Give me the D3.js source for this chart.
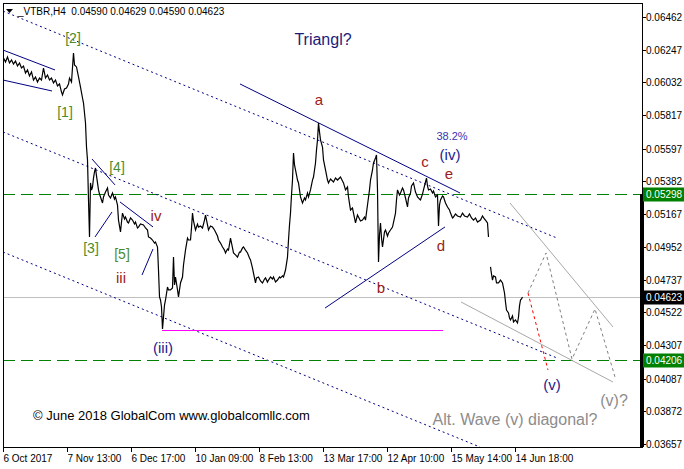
<!DOCTYPE html>
<html><head><meta charset="utf-8">
<script src="https://cdn.jsdelivr.net/npm/d3@7"></script>
<style>body{margin:0;background:#fff;}svg{display:block;font-family:"Liberation Sans",Arial,sans-serif;}</style>
</head><body>
<svg id="c" width="684" height="469"></svg>
<script>
// ---- data ----
const barIndex = [0,2,4,6,8,10,12,14,16,18,20,22,24,26,28,30,32,34,36,38,40,42,44,46,48,50,52,54,56,58,59,61,63,65,66,68,70,71,73,75,77,79,80,82,83,84,85,86,87,
88,89,90,91,92,93,94,95,96,97,98,99,100,102,104,105,107,109,111,112,114,115,117,118,119,121,122,124,125,127,129,131,132,134,135,137,140,142,144,145,147,149,151,152,154,155,156,157,158,159,160,161,162,164,165,167,169,170,171,172,174,175,177,179,180,182,184,185,187,188,189,190,192,194,195,197,199,201,202,204,205,207,209,211,212,214,215,217,219,221,222,224,225,227,229,230,232,234,236,237,239,240,242,244,246,247,249,250,252,253,255,257,259,261,262,264,265,267,269,270,272,274,276,277,279,280,282,284,285,286,287,288,289,290,291,292,294,295,297,299,301,302,304,305,307,309,310,312,313,314,315,316,317,319,320,322,324,325,327,330,332,334,337,339,340,342,344,345,347,349,350,352,354,355,357,359,361,362,364,366,367,369,370,372,373,374,375,376,377,378,379,381,382,384,385,387,389,391,392,393,394,396,397,399,400,402,404,405,407,408,410,412,414,416,417,419,420,422,423,424,425,427,429,430,432,434,435,436,437,439,440,442,444,446,447,449,450,452,454,457,459,461,464,466,468,470,472,474,477,479,481,482,484,485,486,487,488,489,490,492,493,495,497,499,500,501,502,503,505,506,507,509,510,512,514,515,516,517,518,519];
const closePrice = [0.06193,0.06166,0.06199,0.06160,0.06180,0.06153,0.06173,0.06140,0.06160,0.06127,0.06140,0.06094,0.06114,0.06075,0.06101,0.06048,0.06068,0.06035,0.06061,0.06048,0.06127,0.06061,0.06081,0.06048,0.06061,0.06029,0.06048,0.06009,0.06022,0.05969,0.05950,0.05989,0.05996,0.06022,0.06061,0.06035,0.06226,0.06147,0.06134,0.06068,0.06002,0.05930,0.05897,0.05766,0.05608,0.05523,0.05260,0.05017,0.05372,
0.05326,0.05345,0.05404,0.05444,0.05470,0.05418,0.05372,0.05326,0.05299,0.05280,0.05260,0.05240,0.05280,0.05312,0.05339,0.05293,0.05273,0.05306,0.05266,0.05280,0.05227,0.05128,0.05050,0.05115,0.05174,0.05135,0.05148,0.05115,0.05109,0.05142,0.05128,0.05102,0.05115,0.05076,0.05082,0.05102,0.05096,0.05076,0.05063,0.05017,0.05010,0.04997,0.04977,0.04984,0.04951,0.04800,0.04623,0.04603,0.04557,0.04412,0.04491,0.04570,0.04603,0.04688,0.04669,0.04669,0.04682,0.04885,0.04702,0.04754,0.04669,0.04623,0.04715,0.04754,0.04833,0.04931,0.05010,0.04997,0.04997,0.05076,0.05174,0.05122,0.05063,0.05102,0.05082,0.05089,0.05076,0.05128,0.05161,0.05096,0.05063,0.05089,0.05082,0.05063,0.05050,0.05023,0.04997,0.04977,0.04951,0.04931,0.04912,0.04938,0.04931,0.05010,0.04945,0.04912,0.04899,0.04885,0.04918,0.04918,0.04945,0.04951,0.04931,0.04912,0.04879,0.04866,0.04813,0.04780,0.04715,0.04748,0.04754,0.04728,0.04715,0.04741,0.04748,0.04721,0.04734,0.04754,0.04741,0.04754,0.04721,0.04734,0.04754,0.04748,0.04761,0.04754,0.04800,0.04885,0.04997,0.05096,0.05174,0.05293,0.05391,0.05569,0.05490,0.05457,0.05391,0.05372,0.05280,0.05240,0.05273,0.05260,0.05306,0.05280,0.05326,0.05391,0.05411,0.05503,0.05588,0.05654,0.05766,0.05707,0.05654,0.05608,0.05523,0.05457,0.05391,0.05372,0.05398,0.05378,0.05404,0.05391,0.05411,0.05385,0.05372,0.05326,0.05345,0.05280,0.05194,0.05207,0.05174,0.05109,0.05161,0.05148,0.05122,0.05128,0.05148,0.05128,0.05227,0.05326,0.05391,0.05457,0.05503,0.05536,0.05556,0.05326,0.04853,0.05030,0.05109,0.05010,0.04951,0.05050,0.05063,0.05023,0.05043,0.05063,0.05082,0.05142,0.05174,0.05260,0.05326,0.05293,0.05306,0.05339,0.05326,0.05273,0.05214,0.05273,0.05306,0.05352,0.05372,0.05312,0.05280,0.05266,0.05260,0.05299,0.05326,0.05378,0.05404,0.05352,0.05326,0.05332,0.05306,0.05319,0.05280,0.05293,0.05089,0.05227,0.05260,0.05286,0.05280,0.05240,0.05214,0.05194,0.05174,0.05142,0.05148,0.05168,0.05155,0.05148,0.05174,0.05155,0.05148,0.05168,0.05142,0.05128,0.05142,0.05115,0.05128,0.05155,0.05135,0.05128,0.05109,0.05017,null,0.04820,0.04774,0.04734,0.04761,0.04754,0.04715,0.04715,0.04734,0.04715,0.04682,0.04649,0.04590,0.04537,0.04518,0.04485,0.04472,0.04498,0.04459,0.04472,0.04452,0.04491,0.04564,0.04603,0.04610,0.04623];

const priceTicks = [0.06462,0.06247,0.06032,0.05817,0.05597,0.05382,0.05167,0.04952,0.04737,0.04522,0.04307,0.04087,0.03872,0.03657];
const timeTickIndex = [0,64,128,192,256,320,384,448,512];
const timeTickLabels = ["6 Oct 2017","7 Nov 13:00","6 Dec 17:00","10 Jan 09:00","8 Feb 13:00","13 Mar 17:00","12 Apr 10:00","15 May 14:00","14 Jun 18:00"];
const greenLevels = [0.05298, 0.04206];
const currentPrice = 0.04623;
const header = "_VTBR,H4  0.04590 0.04629 0.04590 0.04623";

// annotation lines, [barIndex, price]
const dottedChannel = [[[0,0.06501],[554,0.05010]],[[0,0.05707],[554,0.04222]],[[0,0.04918],[477,0.03637]]];
const solidNavy = [[[0,0.06245],[52,0.06114]],[[0,0.06048],[49,0.05976]],[[237,0.06022],[457,0.05306]],[[322,0.04550],[442,0.05083]],[[89,0.05529],[112,0.05359]],[[92,0.05017],[109,0.05181]],[[117,0.05247],[150,0.05083]],[[139,0.04767],[150,0.04938]]];
const grayLines = [[[507,0.05240],[610,0.04426]],[[458,0.04590],[610,0.04064]]];
const grayPath = [[525,0.04649],[543,0.04912],[569,0.04215],[592,0.04544],[612,0.04097]];
const redPath = [[525,0.04649],[545,0.04143]];
const magentaLine = [[159,0.04406],[440,0.04406]];

const labelText  = ["[2]","[1]","[4]","[3]","[5]","iv","iii","(iii)","a","b","c","d","e","38.2%","(iv)","Triangl?","(v)","(v)?","Alt. Wave (v) diagonal?"];
const labelIndex = [70,62,114,88,119,153,118,160,316,378,422,438,446,449,447,320,549,611,512];
const labelPrice = [0.06324,0.05838,0.05477,0.04945,0.04905,0.05155,0.04748,0.04294,0.05917,0.04682,0.05516,0.04958,0.05437,0.05680,0.05556,0.06311,0.04045,0.03946,0.03815];
const labelKind  = ["g","g","g","g","g","r","r","n","r","r","r","r","r","p","n","t","n","x","x"];

// ---- layout ----
const L=3, R=642, T=3, B=447;
const svg = d3.select("#c");
const x = d3.scaleLinear().domain([0, R-L]).range([L, R]);
const y = d3.scaleLinear().domain([0.03657, 0.06462]).range([444, 17]);

svg.append("defs").append("clipPath").attr("id","pc").append("rect")
  .attr("x",L).attr("y",T).attr("width",R-L).attr("height",B-T);
const g = svg.append("g").attr("clip-path","url(#pc)");
const line = d3.line().x(d=>x(d[0])).y(d=>y(d[1]));

// horizontal levels
g.append("line").attr("x1",L).attr("x2",R).attr("y1",Math.round(y(currentPrice))+0.5).attr("y2",Math.round(y(currentPrice))+0.5)
  .attr("stroke","#c0c0c0").attr("stroke-width",1);
greenLevels.forEach(v=>{
  const yy = Math.round(y(v))+0.5;
  g.append("line").attr("x1",L).attr("x2",R).attr("y1",yy).attr("y2",yy)
   .attr("stroke","#008000").attr("stroke-width",1).attr("stroke-dasharray","12,6");
});

// dotted channel
dottedChannel.forEach(s=>g.append("path").attr("d",line(s)).attr("fill","none")
  .attr("stroke","#000080").attr("stroke-width",1).attr("stroke-dasharray","2,3"));
// solid navy
solidNavy.forEach(s=>g.append("path").attr("d",line(s)).attr("fill","none")
  .attr("stroke","#000080").attr("stroke-width",1));
// gray projection lines
grayLines.forEach(s=>g.append("path").attr("d",line(s)).attr("fill","none")
  .attr("stroke","#a8a8a8").attr("stroke-width",1));
g.append("path").attr("d",line(grayPath)).attr("fill","none").attr("stroke","#808080")
  .attr("stroke-width",1).attr("stroke-dasharray","3,3");
g.append("path").attr("d",line(redPath)).attr("fill","none").attr("stroke","#ff0000")
  .attr("stroke-width",1).attr("stroke-dasharray","3,3");
g.append("line").attr("x1",x(magentaLine[0][0])).attr("x2",x(magentaLine[1][0]))
  .attr("y1",Math.round(y(magentaLine[0][1]))+0.5).attr("y2",Math.round(y(magentaLine[1][1]))+0.5)
  .attr("stroke","#ff00ff").attr("stroke-width",1);

// price line
const series = barIndex.map((b,i)=>[b, closePrice[i]]);
g.append("path").datum(series)
  .attr("d", d3.line().defined(d=>d[1]!=null).x(d=>x(d[0])+0.5).y(d=>y(d[1])))
  .attr("fill","none").attr("stroke","#000").attr("stroke-width",1.2);

// labels
const kindStyle = {
  g:{c:"#4b8b2b",s:14}, r:{c:"#9b1c1c",s:15}, n:{c:"#22228f",s:15},
  p:{c:"#3535b5",s:11}, t:{c:"#1b1b7a",s:16}, x:{c:"#8c8c8c",s:16}
};
labelText.forEach((t,i)=>{
  const st = kindStyle[labelKind[i]];
  svg.append("text").attr("x",x(labelIndex[i])).attr("y",y(labelPrice[i]))
    .attr("text-anchor","middle").attr("dominant-baseline","central")
    .attr("font-size",st.s).attr("fill",st.c).text(t);
});
svg.append("text").attr("x",33).attr("y",415).attr("dominant-baseline","central")
  .attr("font-size",13).attr("fill","#000").text("© June 2018 GlobalCom www.globalcomllc.com");

// header
svg.append("path").attr("d","M6,9 L13,9 L9.5,13 Z").attr("fill","#000");
svg.append("text").attr("x",18).attr("y",11).attr("dominant-baseline","central")
  .attr("font-size",10).attr("fill","#000").attr("xml:space","preserve").style("white-space","pre").text(header);

// frame
svg.append("rect").attr("x",L+0.5).attr("y",T+0.5).attr("width",R-L).attr("height",B-T)
  .attr("fill","none").attr("stroke","#000").attr("stroke-width",1);
svg.append("rect").attr("x",R-2).attr("y",Math.round(y(greenLevels[0]))).attr("width",4)
  .attr("height",B-Math.round(y(greenLevels[0]))).attr("fill","#000");

// right axis
const ya = svg.append("g");
priceTicks.forEach(v=>{
  const yy = Math.round(y(v))+0.5;
  ya.append("line").attr("x1",R+1).attr("x2",R+4).attr("y1",yy).attr("y2",yy).attr("stroke","#000");
  ya.append("text").attr("x",646).attr("y",yy).attr("dominant-baseline","central")
    .attr("font-size",10).attr("fill","#000").text(d3.format(".5f")(v));
});
function badge(v,bg){
  const yy = Math.round(y(v))+0.5;
  ya.append("rect").attr("x",R+1).attr("y",yy-7).attr("width",684-R-1).attr("height",14).attr("fill",bg);
  ya.append("text").attr("x",646).attr("y",yy).attr("dominant-baseline","central")
    .attr("font-size",10).attr("fill","#fff").text(d3.format(".5f")(v));
}
badge(greenLevels[0],"#008000");
badge(currentPrice,"#000");
badge(greenLevels[1],"#008000");

// bottom axis
timeTickIndex.forEach((ti,k)=>{
  const xx = Math.round(x(ti))+0.5;
  svg.append("line").attr("x1",xx).attr("x2",xx).attr("y1",B).attr("y2",B+5).attr("stroke","#000");
  svg.append("text").attr("x",xx).attr("y",458).attr("dominant-baseline","central")
    .attr("font-size",10).attr("fill","#000").text(timeTickLabels[k]);
});
</script>
</body></html>
